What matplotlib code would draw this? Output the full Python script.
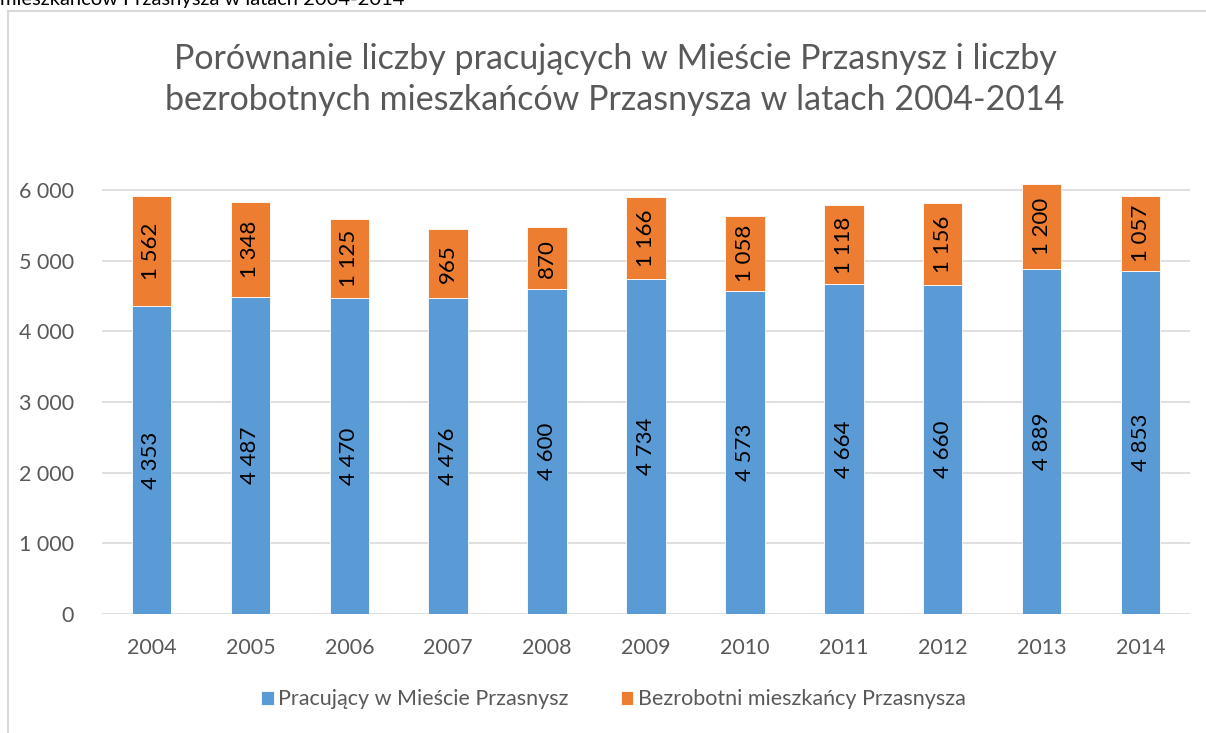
import matplotlib.pyplot as plt
from matplotlib.patches import Rectangle

plt.rcParams['font.family'] = ['Lato', 'DejaVu Sans']

years = ['2004', '2005', '2006', '2007', '2008', '2009', '2010', '2011', '2012', '2013', '2014']
employed = [4353, 4487, 4470, 4476, 4600, 4734, 4573, 4664, 4660, 4889, 4853]
unemployed = [1562, 1348, 1125, 965, 870, 1166, 1058, 1118, 1156, 1200, 1057]
y_ticks = [0, 1000, 2000, 3000, 4000, 5000, 6000]

BLUE = '#5B9BD5'
ORANGE = '#ED7D31'
GRAY = '#595959'


def fmt(v):
    return f'{v:,}'.replace(',', ' ')


fig = plt.figure(figsize=(12.06, 7.33), dpi=100)
ax = fig.add_axes([0.0846, 0.1623, 0.9021, 0.5978])

x = list(range(len(years)))
ax.bar(x, employed, width=0.4, color=BLUE, edgecolor='white', linewidth=0.6,
       label='Pracujący w Mieście Przasnysz', zorder=3)
ax.bar(x, unemployed, width=0.4, bottom=employed, color=ORANGE, edgecolor='white',
       linewidth=0.6, label='Bezrobotni mieszkańcy Przasnysza', zorder=3)

for i in x:
    ax.text(i, employed[i] / 2, fmt(employed[i]), rotation=90, ha='center', va='center',
            fontsize=16, color='black', zorder=4)
    ax.text(i, employed[i] + unemployed[i] / 2, fmt(unemployed[i]), rotation=90,
            ha='center', va='center', fontsize=16, color='black', zorder=4)

ax.set_xlim(-0.5, len(years) - 0.5)
ax.set_ylim(0, 6200)
ax.set_yticks(y_ticks)
ax.set_yticklabels([fmt(v) for v in y_ticks])
ax.set_xticks(x)
ax.set_xticklabels(years)
ax.tick_params(axis='both', length=0, labelsize=15.5, labelcolor=GRAY)
ax.tick_params(axis='y', pad=20)
ax.tick_params(axis='x', pad=17)
for s in ax.spines.values():
    s.set_visible(False)
for v in y_ticks:
    ax.axhline(v, color='#D9D9D9', linewidth=1.2, zorder=1)

fig.text(0.51, 0.892, 'Porównanie liczby pracujących w Mieście Przasnysz i liczby\n'
         'bezrobotnych mieszkańców Przasnysza w latach 2004-2014',
         ha='center', va='center', fontsize=24.5, color=GRAY, linespacing=1.35)

fig.text(0.0, 1.0, 'mieszkańców Przasnysza w latach 2004-2014', ha='left', va='center',
         fontsize=14.5, color='black')

fig.patches.append(Rectangle((8 / 1206, -0.1), 1.5, 1 - 11 / 733 + 0.1,
                             transform=fig.transFigure, fill=False,
                             edgecolor='#D9D9D9', linewidth=1.5))

ax.legend(loc='center', bbox_to_anchor=(0.47, -0.195), ncol=2, frameon=False,
          fontsize=15.5, labelcolor=GRAY, handlelength=0.6, handleheight=0.6,
          handletextpad=0.2, columnspacing=2.4)

fig.savefig('out.png', dpi=100)
